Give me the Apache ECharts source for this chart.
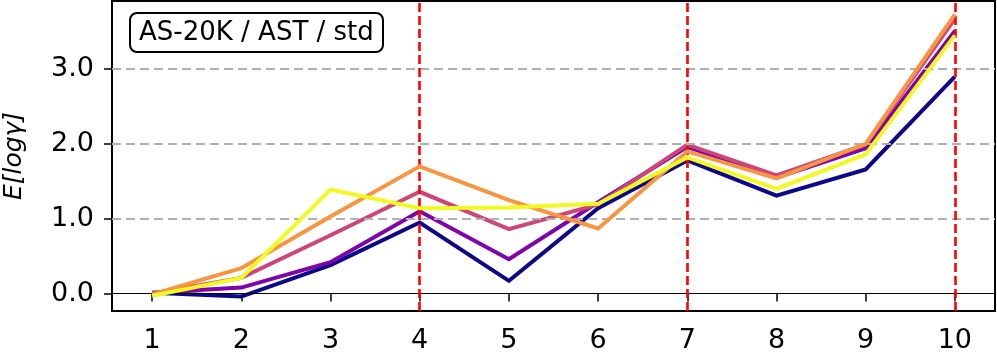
<!DOCTYPE html>
<html>
<head>
<meta charset="utf-8">
<script src="https://cdn.jsdelivr.net/npm/echarts@6/dist/echarts.min.js"></script>
<style>
  html, body { margin: 0; padding: 0; background: #fff; }
  #main { width: 997px; height: 361px; }
</style>
</head>
<body>
<div id="main"></div>
<script>
var chartDom = document.getElementById('main');
var myChart = echarts.init(chartDom);

// data
var steps = [1, 2, 3, 4, 5, 6, 7, 8, 9, 10];
var yTicks = [0, 1, 2, 3];
var markSteps = [4, 7, 10];
var seriesNames = ['s1', 's2', 's3', 's4', 's5'];
var colors = ['#0d0887', '#7e03a8', '#cc4778', '#f89540', '#f0f921'];
var s1 = [0.01, -0.04, 0.38, 0.95, 0.17, 1.14, 1.78, 1.31, 1.66, 2.90];
var s2 = [0.01, 0.08, 0.42, 1.10, 0.46, 1.22, 1.96, 1.55, 1.94, 3.51];
var s3 = [0.00, 0.21, 0.78, 1.36, 0.86, 1.19, 1.99, 1.58, 1.99, 3.67];
var s4 = [-0.01, 0.34, 1.03, 1.70, 1.25, 0.87, 1.90, 1.54, 2.00, 3.73];
var s5 = [-0.03, 0.21, 1.39, 1.14, 1.15, 1.20, 1.82, 1.40, 1.86, 3.45];
var allValues = [s1, s2, s3, s4, s5];

var font = 'DejaVu Sans';

function pairs(vals) {
  return steps.map(function (s, i) { return [s, vals[i]]; });
}

var series = [];

// grey dashed grid lines and black zero line, below the curves
series.push({
  type: 'line',
  data: [],
  z: 1,
  silent: true,
  markLine: {
    symbol: 'none',
    silent: true,
    label: { show: false },
    animation: false,
    data: yTicks.map(function (v) {
      return v === 0
        ? { yAxis: v, lineStyle: { color: '#000', type: 'solid', width: 1.2 } }
        : { yAxis: v, lineStyle: { color: '#b0b0b0', type: [9, 5], width: 1.8 } };
    })
  }
});

allValues.forEach(function (vals, i) {
  series.push({
    name: seriesNames[i],
    type: 'line',
    data: pairs(vals),
    showSymbol: false,
    symbol: 'none',
    z: 2 + i,
    lineStyle: { color: colors[i], width: 4, cap: 'butt', join: 'miter' }
  });
});

// red dashed vertical lines on top
series.push({
  type: 'line',
  data: [],
  z: 20,
  silent: true,
  markLine: {
    symbol: 'none',
    silent: true,
    label: { show: false },
    animation: false,
    lineStyle: { color: '#ff0000', type: [9, 4], width: 2.6 },
    data: markSteps.map(function (v) { return { xAxis: v }; })
  }
});

var option = {
  animation: false,
  title: {
    text: 'AS-20K / AST / std',
    left: 130,
    top: 13,
    padding: [7, 9, 6, 9],
    borderColor: '#000',
    borderWidth: 2,
    borderRadius: 7,
    backgroundColor: '#fff',
    textStyle: { fontFamily: font, fontSize: 26, fontWeight: 'normal', color: '#000' }
  },
  grid: {
    left: 112, right: 2, top: 1, bottom: 50,
    outerBoundsMode: 'none',
    containLabel: false,
    show: true,
    borderColor: '#000',
    borderWidth: 2
  },
  xAxis: {
    type: 'value',
    min: 0.55,
    max: 10.45,
    axisLine: { show: false },
    splitLine: { show: false },
    axisTick: { show: true, customValues: steps, length: 8, lineStyle: { color: '#000', width: 1.5 } },
    axisLabel: {
      customValues: steps,
      fontFamily: font, fontSize: 27, color: '#000', margin: 16
    }
  },
  yAxis: {
    type: 'value',
    min: -0.233,
    max: 3.91,
    name: 'E[logγ]',
    nameLocation: 'middle',
    nameRotate: 90,
    nameGap: 85,
    nameTextStyle: { fontFamily: font, fontSize: 25, fontStyle: 'italic', color: '#000' },
    axisLine: { show: false },
    splitLine: { show: false },
    axisTick: { show: true, customValues: yTicks, length: 8, lineStyle: { color: '#000', width: 1.5 } },
    axisLabel: {
      customValues: yTicks,
      formatter: function (v) { return v.toFixed(1); },
      fontFamily: font, fontSize: 27, color: '#000', margin: 18
    }
  },
  series: series
};

option && myChart.setOption(option);
</script>
</body>
</html>
